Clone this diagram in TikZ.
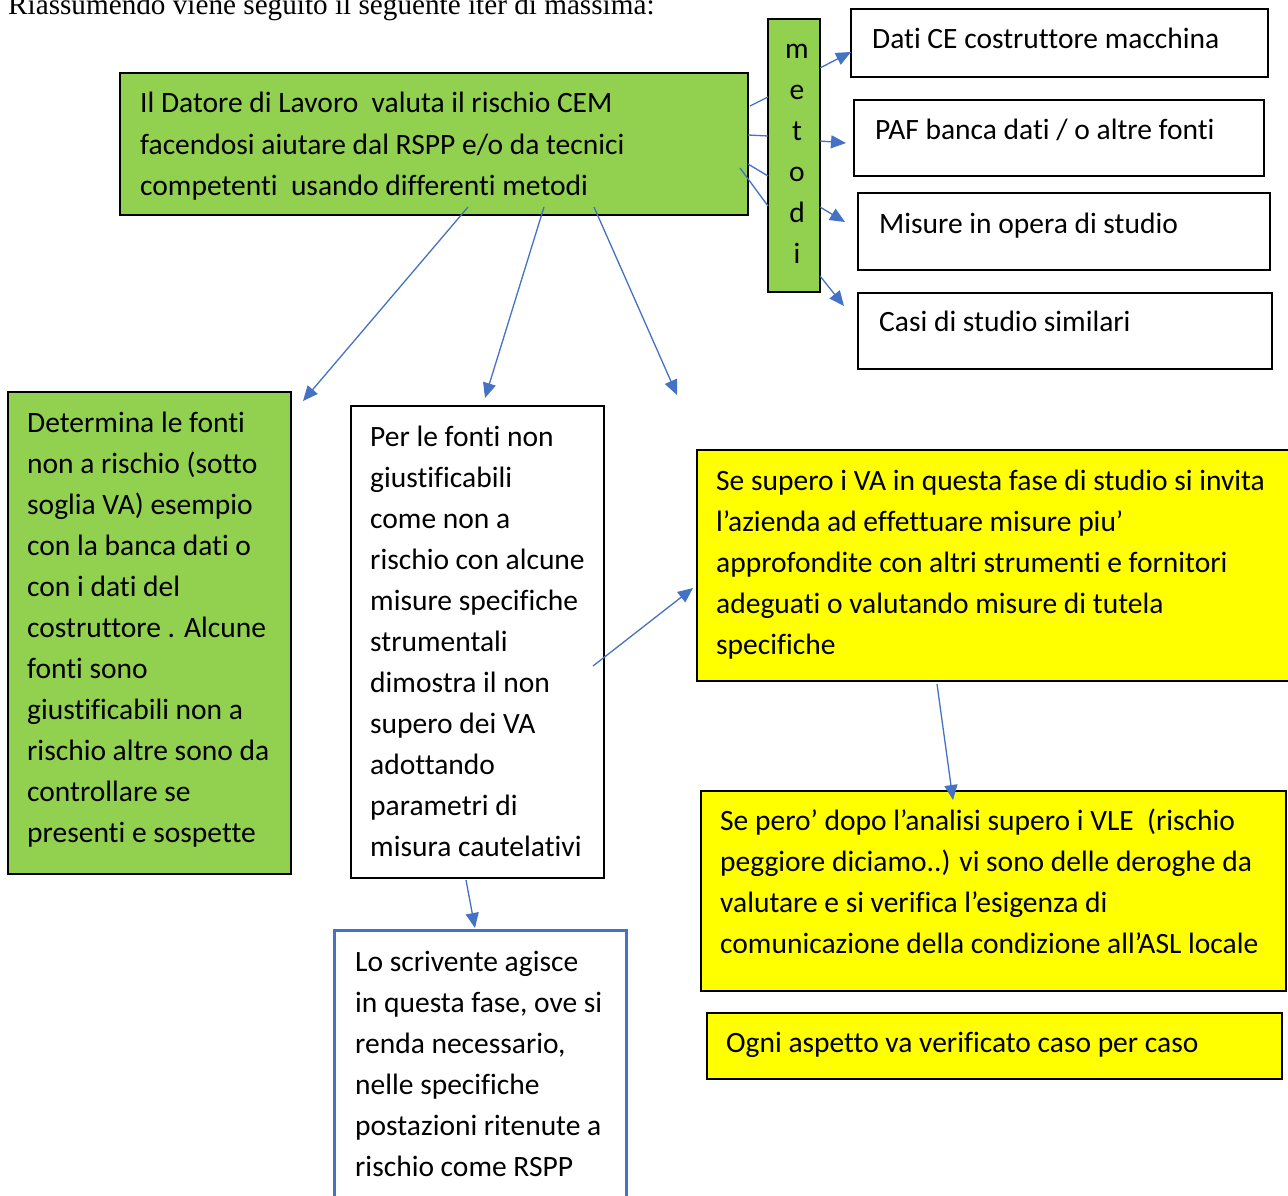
\documentclass[tikz,border=0pt]{standalone}
\usepackage{fontspec}
\setmainfont{Carlito}[Ligatures=NoCommon]
\newfontfamily\tnr{Liberation Serif}
\usetikzlibrary{arrows.meta}
\definecolor{cgreen}{HTML}{92D050}
\definecolor{cyel}{HTML}{FFFF00}
\definecolor{cblue}{HTML}{4472C4}
\newcommand{\st}{\rule[-11.5pt]{0pt}{41pt}}
\tikzset{
  boxbase/.style={draw=black, line width=1.3pt, rectangle, inner sep=0pt},
  gbox/.style={boxbase, fill=cgreen},
  wbox/.style={boxbase, fill=white},
  ybox/.style={boxbase, fill=cyel},
  bbox/.style={draw=cblue, line width=3pt, rectangle, inner sep=0pt, fill=white},
  txt/.style={anchor=west, align=left, inner sep=0pt, font=\fontsize{29.5}{41}\selectfont},
  arr/.style={draw=cblue, line width=1.3pt, -{Triangle[length=15pt,width=13pt]}},
  ln/.style={draw=cblue, line width=1.3pt},
}
\begin{document}
\begin{tikzpicture}[x=1pt,y=-1pt]
\useasboundingbox (0,0) rectangle (1288,1196);
\fill[white] (0,0) rectangle (1288,1196);

\node[anchor=base west, inner sep=0pt, font=\tnr\fontsize{29.2}{34}\selectfont] (top) at (8,15) {Riassumendo viene seguito il seguente iter di massima:};

% boxes
\node[gbox, minimum width=628pt, minimum height=142pt] (g1) at (434,144) {};
\node[gbox, minimum width=52pt, minimum height=273pt] (met) at (794,155.5) {};
\node[wbox, minimum width=417pt, minimum height=68pt] (d1) at (1059.5,43) {};
\node[wbox, minimum width=410pt, minimum height=76pt] (d2) at (1059,138) {};
\node[wbox, minimum width=412pt, minimum height=77pt] (d3) at (1064,231.5) {};
\node[wbox, minimum width=414pt, minimum height=76pt] (d4) at (1065,331) {};
\node[gbox, minimum width=283pt, minimum height=482pt] (g2) at (149.5,633) {};
\node[wbox, minimum width=253pt, minimum height=472pt] (w1) at (477.5,642) {};
\node[bbox, minimum width=292pt, minimum height=280pt] (b1) at (480,1070) {};
\node[ybox, minimum width=603pt, minimum height=231pt] (y1) at (998.5,565.5) {};
\node[ybox, minimum width=585pt, minimum height=200pt] (y2) at (993.5,891) {};
\node[ybox, minimum width=575pt, minimum height=66pt] (y3) at (994.5,1046) {};

% texts
\node[txt] (tg1) at (140,145) {\st Il Datore di Lavoro\ \ valuta il rischio CEM\\\st facendosi aiutare dal RSPP e/o da tecnici\\\st competenti\ \ usando differenti metodi};
\node[txt, anchor=center, align=center] (tmet) at (797,152) {\st m\\\st e\\\st t\\\st o\\\st d\\\st i};
\node[txt] (td1) at (872,40) {\st Dati CE costruttore macchina};
\node[txt] (td2) at (875,131) {\st PAF banca dati / o altre fonti};
\node[txt] (td3) at (879,224) {\st Misure in opera di studio};
\node[txt] (td4) at (879,322) {\st Casi di studio similari};
\node[txt] (tg2) at (27,628) {\st Determina le fonti\\\st non a rischio (sotto\\\st soglia VA) esempio\\\st con la banca dati o\\\st con i dati del\\\st costruttore . Alcune\\\st fonti sono\\\st giustificabili non a\\\st rischio altre sono da\\\st controllare se\\\st presenti e sospette};
\node[txt] (tw1) at (370,642) {\st Per le fonti non\\\st giustificabili\\\st come non a\\\st rischio con alcune\\\st misure specifiche\\\st strumentali\\\st dimostra il non\\\st supero dei VA\\\st adottando\\\st parametri di\\\st misura cautelativi};
\node[txt] (tb1) at (355,1065) {\st Lo scrivente agisce\\\st in questa fase, ove si\\\st renda necessario,\\\st nelle specifiche\\\st postazioni ritenute a\\\st rischio come RSPP};
\node[txt] (ty1) at (716,563.5) {\st Se supero i VA in questa fase di studio si invita\\\st l’azienda ad effettuare misure piu’\\\st approfondite con altri strumenti e fornitori\\\st adeguati o valutando misure di tutela\\\st specifiche};
\node[txt] (ty2) at (720,883) {\st Se pero’ dopo l’analisi supero i VLE\ \ (rischio\\\st peggiore diciamo..) vi sono delle deroghe da\\\st valutare e si verifica l’esigenza di\\\st comunicazione della condizione all’ASL locale};
\node[txt] (ty3) at (726,1043) {\st Ogni aspetto va verificato caso per caso};

% connector end points
\coordinate (m1a) at (750,106); \coordinate (m1b) at (768,97);
\coordinate (m2a) at (748,135); \coordinate (m2b) at (768,136);
\coordinate (m3a) at (748,164); \coordinate (m3b) at (768,176);
\coordinate (m4a) at (740,168); \coordinate (m4b) at (768,206);
\coordinate (o1a) at (820,68);  \coordinate (o1b) at (851,52);
\coordinate (o2a) at (820,141); \coordinate (o2b) at (846,143);
\coordinate (o3a) at (820,207); \coordinate (o3b) at (845,222);
\coordinate (o4a) at (820,276); \coordinate (o4b) at (844,306);
\coordinate (s1) at (468,207); \coordinate (e1) at (303,401);
\coordinate (s2) at (544,207); \coordinate (e2) at (485,398);
\coordinate (s3) at (594,207); \coordinate (e3) at (677,395);
\coordinate (s4) at (466,880); \coordinate (e4) at (475,928);
\coordinate (s5) at (593,666); \coordinate (e5) at (693,588);
\coordinate (s6) at (937,684); \coordinate (e6) at (953,800);

\draw[ln] (m1a) -- (m1b);
\draw[ln] (m2a) -- (m2b);
\draw[ln] (m3a) -- (m3b);
\draw[ln] (m4a) -- (m4b);
\draw[arr] (o1a) -- (o1b);
\draw[arr] (o2a) -- (o2b);
\draw[arr] (o3a) -- (o3b);
\draw[arr] (o4a) -- (o4b);
\draw[arr] (s1) -- (e1);
\draw[arr] (s2) -- (e2);
\draw[arr] (s3) -- (e3);
\draw[arr] (s4) -- (e4);
\draw[arr] (s5) -- (e5);
\draw[arr] (s6) -- (e6);
\end{tikzpicture}
\end{document}
